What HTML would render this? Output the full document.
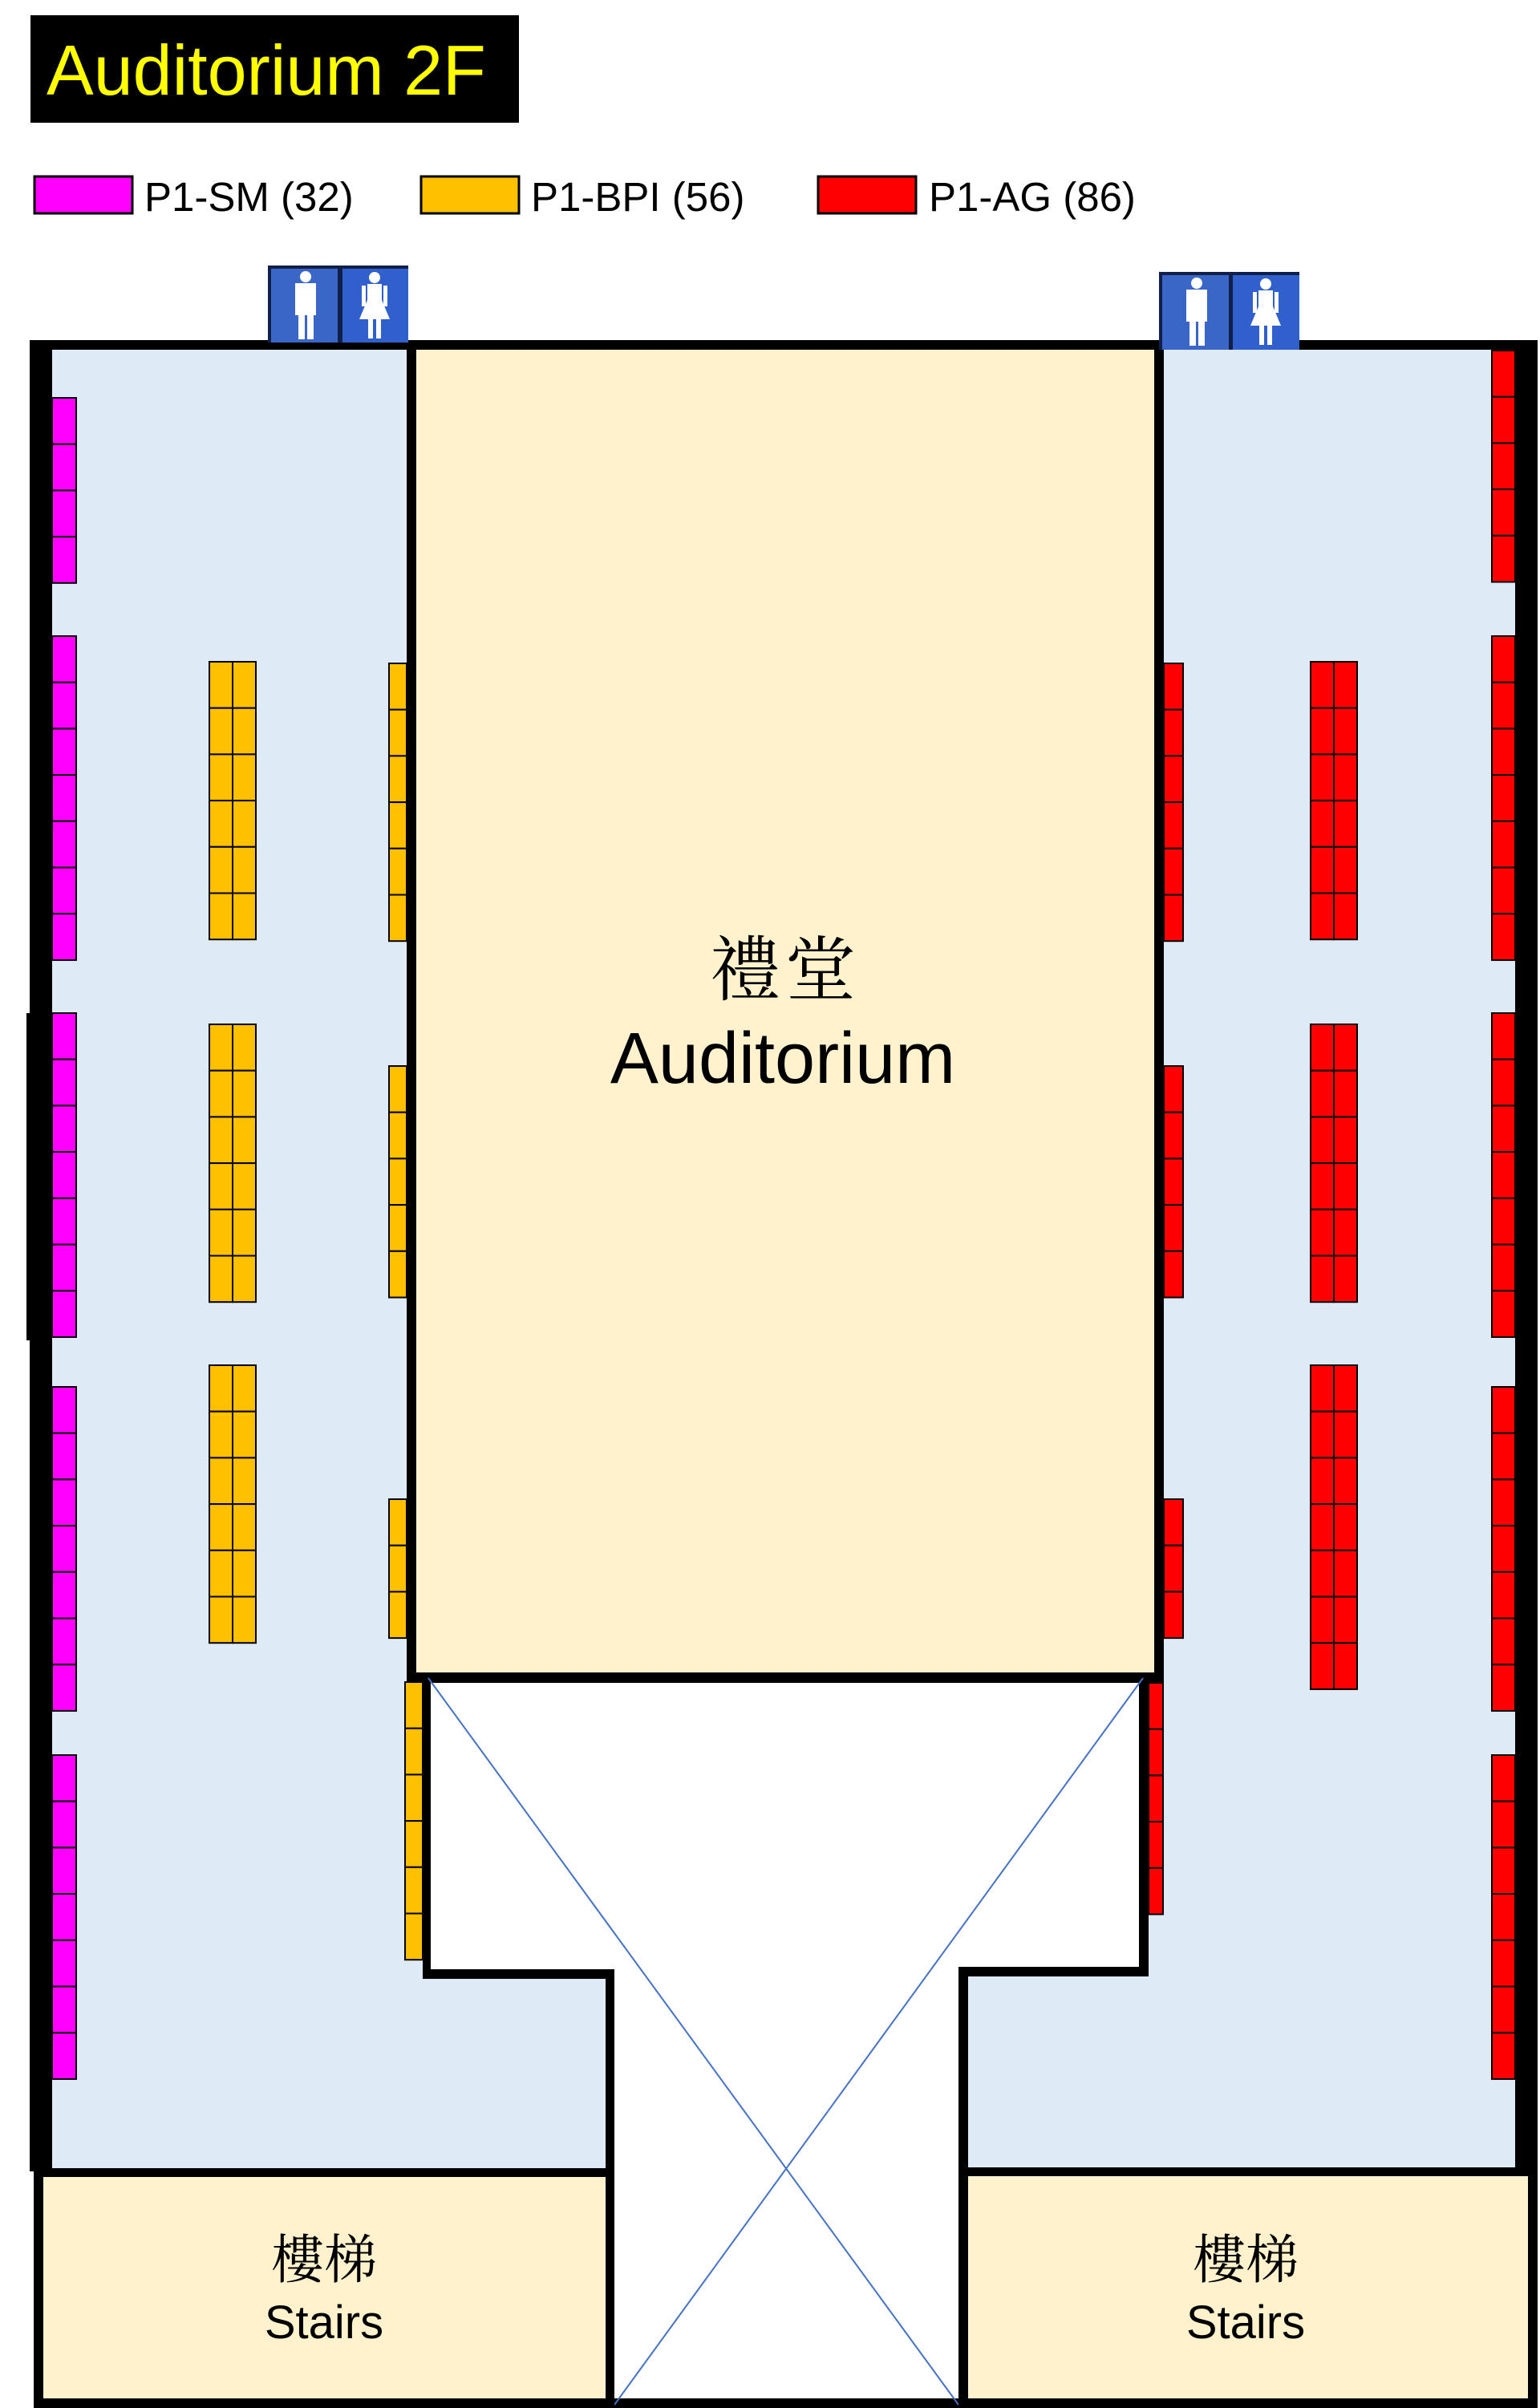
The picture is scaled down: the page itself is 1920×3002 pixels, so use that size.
<!DOCTYPE html>
<html><head><meta charset="utf-8"><style>
html,body{margin:0;padding:0;background:#fff}
svg{display:block}
.s{stroke:#000;stroke-width:2}
.m{fill:#ff00ff}.o{fill:#ffc000}.r{fill:#ff0000}
text{font-family:"Liberation Sans",sans-serif}
.cj{font-family:"Liberation Serif","Noto Serif CJK SC","Noto Sans CJK TC",serif}
</style></head><body>
<svg width="1920" height="3002" viewBox="0 0 1920 3002" xmlns="http://www.w3.org/2000/svg">
<!-- title -->
<rect x="38" y="19" width="609" height="134" fill="#000"/>
<text x="58" y="118" font-size="88" fill="#ffff00">Auditorium 2F</text>
<!-- legend -->
<rect x="43" y="220" width="122" height="46" fill="#ff00ff" stroke="#000" stroke-width="3"/>
<text x="180" y="263" font-size="51">P1-SM (32)</text>
<rect x="525" y="220" width="122" height="46" fill="#ffc000" stroke="#000" stroke-width="3"/>
<text x="662" y="263" font-size="51">P1-BPI (56)</text>
<rect x="1020" y="220" width="122" height="46" fill="#ff0000" stroke="#000" stroke-width="3"/>
<text x="1158" y="263" font-size="51">P1-AG (86)</text>

<!-- panels -->
<rect x="65" y="436" width="690" height="2270" fill="#deeaf6"/>
<rect x="1195" y="436" width="694" height="2270" fill="#deeaf6"/>
<!-- auditorium -->
<rect x="507" y="424" width="944" height="1674" fill="#000"/>
<rect x="519" y="436" width="920" height="1649" fill="#fff2cc"/>
<text class="cj" x="979" y="1240" font-size="88" text-anchor="middle" letter-spacing="6">禮堂</text>
<text x="976" y="1350" font-size="90" text-anchor="middle">Auditorium</text>
<!-- white atrium -->
<polygon points="527,2085 1432,2085 1432,2464 1207,2464 1207,3002 755,3002 755,2467 527,2467" fill="#000"/>
<polygon points="537,2098 1420,2098 1420,2452 1195,2452 1195,2990 766,2990 766,2455 537,2455" fill="#fff"/>
<line x1="534" y1="2092" x2="1195" y2="2998" stroke="#4472c4" stroke-width="2"/>
<line x1="1425" y1="2092" x2="766" y2="2998" stroke="#4472c4" stroke-width="2"/>
<!-- outer walls -->
<rect x="37" y="424" width="1880" height="12" fill="#000"/>
<rect x="37" y="424" width="28" height="2283" fill="#000"/>
<rect x="33" y="1263" width="6" height="408" fill="#000"/>
<rect x="1889" y="424" width="28" height="2280" fill="#000"/>
<!-- stairs -->
<rect x="42" y="2703" width="724" height="299" fill="#000"/>
<rect x="54" y="2714" width="701" height="276" fill="#fff2cc"/>
<text class="cj" x="404" y="2840" font-size="66" text-anchor="middle">樓梯</text>
<text x="404" y="2915" font-size="58" text-anchor="middle">Stairs</text>
<rect x="1195" y="2702" width="722" height="300" fill="#000"/>
<rect x="1207" y="2713" width="698" height="277" fill="#fff2cc"/>
<text class="cj" x="1553" y="2840" font-size="66" text-anchor="middle">樓梯</text>
<text x="1553" y="2915" font-size="58" text-anchor="middle">Stairs</text>

<!-- restrooms -->
<g>
<rect x="334" y="331" width="175" height="96" fill="#10204a"/>
<rect x="338" y="335" width="83" height="92" fill="#3a66c8"/>
<rect x="427" y="335" width="82" height="92" fill="#3060cc"/>
<g fill="#fff">
<circle cx="381" cy="345" r="7"/><rect x="368" y="353" width="26" height="40"/><rect x="372" y="390" width="8" height="33"/><rect x="383" y="390" width="8" height="33"/>
<circle cx="467" cy="346" r="7"/><rect x="458" y="354" width="18" height="22"/><rect x="451" y="356" width="5" height="26"/><rect x="478" y="356" width="5" height="26"/><polygon points="458,374 476,374 486,398 448,398"/><rect x="459" y="396" width="6" height="26"/><rect x="469" y="396" width="6" height="26"/>
</g>
<rect x="1445" y="339" width="175" height="97" fill="#10204a"/>
<rect x="1449" y="343" width="83" height="93" fill="#3a66c8"/>
<rect x="1537" y="343" width="83" height="93" fill="#3060cc"/>
<g fill="#fff">
<circle cx="1492" cy="353" r="7"/><rect x="1479" y="361" width="26" height="40"/><rect x="1483" y="398" width="8" height="33"/><rect x="1494" y="398" width="8" height="33"/>
<circle cx="1578" cy="354" r="7"/><rect x="1569" y="362" width="18" height="22"/><rect x="1562" y="364" width="5" height="26"/><rect x="1589" y="364" width="5" height="26"/><polygon points="1569,382 1587,382 1597,406 1559,406"/><rect x="1570" y="404" width="6" height="26"/><rect x="1580" y="404" width="6" height="26"/>
</g>
</g>

<!-- magenta seats -->
<g class="m s">
<rect x="65" y="496" width="30" height="57.7"/><rect x="65" y="553.7" width="30" height="57.7"/><rect x="65" y="611.4" width="30" height="57.7"/><rect x="65" y="669.1" width="30" height="57.7"/>
<rect x="65" y="793" width="30" height="57.7"/><rect x="65" y="850.7" width="30" height="57.7"/><rect x="65" y="908.4" width="30" height="57.7"/><rect x="65" y="966.1" width="30" height="57.7"/><rect x="65" y="1023.8" width="30" height="57.7"/><rect x="65" y="1081.5" width="30" height="57.7"/><rect x="65" y="1139.2" width="30" height="57.7"/>
<rect x="65" y="1263" width="30" height="57.7"/><rect x="65" y="1320.7" width="30" height="57.7"/><rect x="65" y="1378.4" width="30" height="57.7"/><rect x="65" y="1436.1" width="30" height="57.7"/><rect x="65" y="1493.8" width="30" height="57.7"/><rect x="65" y="1551.5" width="30" height="57.7"/><rect x="65" y="1609.2" width="30" height="57.7"/>
<rect x="65" y="1729" width="30" height="57.7"/><rect x="65" y="1786.7" width="30" height="57.7"/><rect x="65" y="1844.4" width="30" height="57.7"/><rect x="65" y="1902.1" width="30" height="57.7"/><rect x="65" y="1959.8" width="30" height="57.7"/><rect x="65" y="2017.5" width="30" height="57.7"/><rect x="65" y="2075.2" width="30" height="57.7"/>
<rect x="65" y="2188" width="30" height="57.7"/><rect x="65" y="2245.7" width="30" height="57.7"/><rect x="65" y="2303.4" width="30" height="57.7"/><rect x="65" y="2361.1" width="30" height="57.7"/><rect x="65" y="2418.8" width="30" height="57.7"/><rect x="65" y="2476.5" width="30" height="57.7"/><rect x="65" y="2534.2" width="30" height="57.7"/>
</g>

<!-- orange seats -->
<g class="o s">
<rect x="261" y="825" width="29" height="57.7"/><rect x="290" y="825" width="29" height="57.7"/><rect x="261" y="882.7" width="29" height="57.7"/><rect x="290" y="882.7" width="29" height="57.7"/><rect x="261" y="940.4" width="29" height="57.7"/><rect x="290" y="940.4" width="29" height="57.7"/><rect x="261" y="998.1" width="29" height="57.7"/><rect x="290" y="998.1" width="29" height="57.7"/><rect x="261" y="1055.8" width="29" height="57.7"/><rect x="290" y="1055.8" width="29" height="57.7"/><rect x="261" y="1113.5" width="29" height="57.7"/><rect x="290" y="1113.5" width="29" height="57.7"/>
<rect x="261" y="1277" width="29" height="57.7"/><rect x="290" y="1277" width="29" height="57.7"/><rect x="261" y="1334.7" width="29" height="57.7"/><rect x="290" y="1334.7" width="29" height="57.7"/><rect x="261" y="1392.4" width="29" height="57.7"/><rect x="290" y="1392.4" width="29" height="57.7"/><rect x="261" y="1450.1" width="29" height="57.7"/><rect x="290" y="1450.1" width="29" height="57.7"/><rect x="261" y="1507.8" width="29" height="57.7"/><rect x="290" y="1507.8" width="29" height="57.7"/><rect x="261" y="1565.5" width="29" height="57.7"/><rect x="290" y="1565.5" width="29" height="57.7"/>
<rect x="261" y="1702" width="29" height="57.7"/><rect x="290" y="1702" width="29" height="57.7"/><rect x="261" y="1759.7" width="29" height="57.7"/><rect x="290" y="1759.7" width="29" height="57.7"/><rect x="261" y="1817.4" width="29" height="57.7"/><rect x="290" y="1817.4" width="29" height="57.7"/><rect x="261" y="1875.1" width="29" height="57.7"/><rect x="290" y="1875.1" width="29" height="57.7"/><rect x="261" y="1932.8" width="29" height="57.7"/><rect x="290" y="1932.8" width="29" height="57.7"/><rect x="261" y="1990.5" width="29" height="57.7"/><rect x="290" y="1990.5" width="29" height="57.7"/>
<rect x="485" y="827" width="22" height="57.7"/><rect x="485" y="884.7" width="22" height="57.7"/><rect x="485" y="942.4" width="22" height="57.7"/><rect x="485" y="1000.1" width="22" height="57.7"/><rect x="485" y="1057.8" width="22" height="57.7"/><rect x="485" y="1115.5" width="22" height="57.7"/>
<rect x="485" y="1329" width="22" height="57.7"/><rect x="485" y="1386.7" width="22" height="57.7"/><rect x="485" y="1444.4" width="22" height="57.7"/><rect x="485" y="1502.1" width="22" height="57.7"/><rect x="485" y="1559.8" width="22" height="57.7"/>
<rect x="485" y="1869" width="22" height="57.7"/><rect x="485" y="1926.7" width="22" height="57.7"/><rect x="485" y="1984.4" width="22" height="57.7"/>
<rect x="505" y="2097" width="22" height="57.7"/><rect x="505" y="2154.7" width="22" height="57.7"/><rect x="505" y="2212.4" width="22" height="57.7"/><rect x="505" y="2270.1" width="22" height="57.7"/><rect x="505" y="2327.8" width="22" height="57.7"/><rect x="505" y="2385.5" width="22" height="57.7"/>
</g>

<!-- red seats -->
<g class="r s">
<rect x="1860" y="437" width="29" height="57.7"/><rect x="1860" y="494.7" width="29" height="57.7"/><rect x="1860" y="552.4" width="29" height="57.7"/><rect x="1860" y="610.1" width="29" height="57.7"/><rect x="1860" y="667.8" width="29" height="57.7"/>
<rect x="1860" y="793" width="29" height="57.7"/><rect x="1860" y="850.7" width="29" height="57.7"/><rect x="1860" y="908.4" width="29" height="57.7"/><rect x="1860" y="966.1" width="29" height="57.7"/><rect x="1860" y="1023.8" width="29" height="57.7"/><rect x="1860" y="1081.5" width="29" height="57.7"/><rect x="1860" y="1139.2" width="29" height="57.7"/>
<rect x="1860" y="1263" width="29" height="57.7"/><rect x="1860" y="1320.7" width="29" height="57.7"/><rect x="1860" y="1378.4" width="29" height="57.7"/><rect x="1860" y="1436.1" width="29" height="57.7"/><rect x="1860" y="1493.8" width="29" height="57.7"/><rect x="1860" y="1551.5" width="29" height="57.7"/><rect x="1860" y="1609.2" width="29" height="57.7"/>
<rect x="1860" y="1729" width="29" height="57.7"/><rect x="1860" y="1786.7" width="29" height="57.7"/><rect x="1860" y="1844.4" width="29" height="57.7"/><rect x="1860" y="1902.1" width="29" height="57.7"/><rect x="1860" y="1959.8" width="29" height="57.7"/><rect x="1860" y="2017.5" width="29" height="57.7"/><rect x="1860" y="2075.2" width="29" height="57.7"/>
<rect x="1860" y="2188" width="29" height="57.7"/><rect x="1860" y="2245.7" width="29" height="57.7"/><rect x="1860" y="2303.4" width="29" height="57.7"/><rect x="1860" y="2361.1" width="29" height="57.7"/><rect x="1860" y="2418.8" width="29" height="57.7"/><rect x="1860" y="2476.5" width="29" height="57.7"/><rect x="1860" y="2534.2" width="29" height="57.7"/>
<rect x="1634" y="825" width="29" height="57.7"/><rect x="1663" y="825" width="29" height="57.7"/><rect x="1634" y="882.7" width="29" height="57.7"/><rect x="1663" y="882.7" width="29" height="57.7"/><rect x="1634" y="940.4" width="29" height="57.7"/><rect x="1663" y="940.4" width="29" height="57.7"/><rect x="1634" y="998.1" width="29" height="57.7"/><rect x="1663" y="998.1" width="29" height="57.7"/><rect x="1634" y="1055.8" width="29" height="57.7"/><rect x="1663" y="1055.8" width="29" height="57.7"/><rect x="1634" y="1113.5" width="29" height="57.7"/><rect x="1663" y="1113.5" width="29" height="57.7"/>
<rect x="1634" y="1277" width="29" height="57.7"/><rect x="1663" y="1277" width="29" height="57.7"/><rect x="1634" y="1334.7" width="29" height="57.7"/><rect x="1663" y="1334.7" width="29" height="57.7"/><rect x="1634" y="1392.4" width="29" height="57.7"/><rect x="1663" y="1392.4" width="29" height="57.7"/><rect x="1634" y="1450.1" width="29" height="57.7"/><rect x="1663" y="1450.1" width="29" height="57.7"/><rect x="1634" y="1507.8" width="29" height="57.7"/><rect x="1663" y="1507.8" width="29" height="57.7"/><rect x="1634" y="1565.5" width="29" height="57.7"/><rect x="1663" y="1565.5" width="29" height="57.7"/>
<rect x="1634" y="1702" width="29" height="57.7"/><rect x="1663" y="1702" width="29" height="57.7"/><rect x="1634" y="1759.7" width="29" height="57.7"/><rect x="1663" y="1759.7" width="29" height="57.7"/><rect x="1634" y="1817.4" width="29" height="57.7"/><rect x="1663" y="1817.4" width="29" height="57.7"/><rect x="1634" y="1875.1" width="29" height="57.7"/><rect x="1663" y="1875.1" width="29" height="57.7"/><rect x="1634" y="1932.8" width="29" height="57.7"/><rect x="1663" y="1932.8" width="29" height="57.7"/><rect x="1634" y="1990.5" width="29" height="57.7"/><rect x="1663" y="1990.5" width="29" height="57.7"/><rect x="1634" y="2048.2" width="29" height="57.7"/><rect x="1663" y="2048.2" width="29" height="57.7"/>
<rect x="1451" y="827" width="24" height="57.7"/><rect x="1451" y="884.7" width="24" height="57.7"/><rect x="1451" y="942.4" width="24" height="57.7"/><rect x="1451" y="1000.1" width="24" height="57.7"/><rect x="1451" y="1057.8" width="24" height="57.7"/><rect x="1451" y="1115.5" width="24" height="57.7"/>
<rect x="1451" y="1329" width="24" height="57.7"/><rect x="1451" y="1386.7" width="24" height="57.7"/><rect x="1451" y="1444.4" width="24" height="57.7"/><rect x="1451" y="1502.1" width="24" height="57.7"/><rect x="1451" y="1559.8" width="24" height="57.7"/>
<rect x="1451" y="1869" width="24" height="57.7"/><rect x="1451" y="1926.7" width="24" height="57.7"/><rect x="1451" y="1984.4" width="24" height="57.7"/>
<rect x="1432" y="2098" width="18" height="57.7"/><rect x="1432" y="2155.7" width="18" height="57.7"/><rect x="1432" y="2213.4" width="18" height="57.7"/><rect x="1432" y="2271.1" width="18" height="57.7"/><rect x="1432" y="2328.8" width="18" height="57.7"/>
</g>
</svg>
</body></html>
